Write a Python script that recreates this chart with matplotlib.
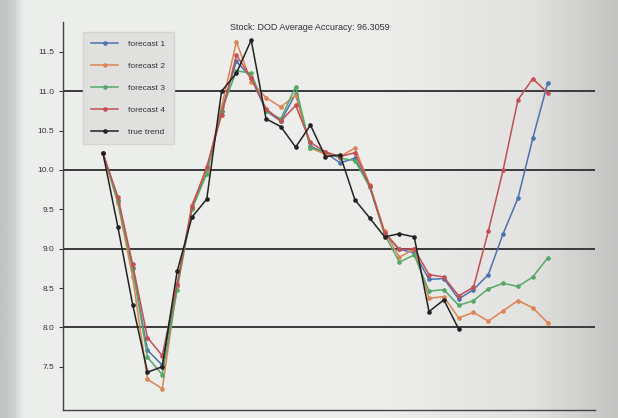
import numpy as np
import matplotlib
matplotlib.use("Agg")
import matplotlib.pyplot as plt
from matplotlib.colors import LinearSegmentedColormap

plt.rcParams['font.family'] = ['Liberation Sans Narrow', 'Liberation Sans', 'DejaVu Sans']

title = "Stock: DOD Average Accuracy: 96.3059"

true_trend = [10.21, 9.28, 8.29, 7.43, 7.50, 8.71, 9.40, 9.63, 11.00, 11.23,
              11.65, 10.65, 10.55, 10.29, 10.57, 10.17, 10.19, 9.62, 9.39, 9.15,
              9.19, 9.15, 8.20, 8.35, 7.98]

forecast_1 = [10.21, 9.62, 8.75, 7.71, 7.52, 8.52, 9.52, 10.00, 10.75, 11.38,
              11.17, 10.75, 10.62, 10.97, 10.30, 10.22, 10.09, 10.15, 9.79, 9.20,
              8.99, 8.95, 8.61, 8.62, 8.36, 8.48, 8.67, 9.19, 9.64, 10.40, 11.10]
forecast_2 = [10.21, 9.58, 8.64, 7.34, 7.22, 8.52, 9.56, 10.00, 10.80, 11.63,
              11.12, 10.92, 10.80, 10.95, 10.28, 10.20, 10.17, 10.28, 9.81, 9.22,
              8.89, 9.00, 8.37, 8.39, 8.12, 8.19, 8.08, 8.21, 8.34, 8.25, 8.06]
forecast_3 = [10.21, 9.60, 8.75, 7.62, 7.40, 8.48, 9.50, 9.95, 10.75, 11.26,
              11.23, 10.75, 10.65, 11.06, 10.28, 10.23, 10.15, 10.12, 9.78, 9.18,
              8.83, 8.92, 8.46, 8.48, 8.28, 8.34, 8.49, 8.56, 8.52, 8.64, 8.88]
forecast_4 = [10.21, 9.66, 8.80, 7.87, 7.64, 8.55, 9.53, 10.04, 10.70, 11.46,
              11.17, 10.78, 10.62, 10.82, 10.35, 10.23, 10.17, 10.22, 9.80, 9.20,
              8.99, 9.00, 8.67, 8.64, 8.40, 8.51, 9.22, 10.00, 10.89, 11.16, 10.98]

series = [("forecast 1", forecast_1, "#4C72B0"),
          ("forecast 2", forecast_2, "#DD8452"),
          ("forecast 3", forecast_3, "#55A868"),
          ("forecast 4", forecast_4, "#C44E52"),
          ("true trend", true_trend, "#222222")]

level_lines = [8.0, 9.0, 10.0, 11.0]
y_ticks = [7.5, 8.0, 8.5, 9.0, 9.5, 10.0, 10.5, 11.0, 11.5]

fig = plt.figure(figsize=(6.18, 4.18), dpi=100)

# backdrop: light screen, darker strip on the left and shading to the right
bg = fig.add_axes([0, 0, 1, 1], zorder=-10)
bg_cmap = LinearSegmentedColormap.from_list(
    "screen", [(0.0, "#bfc3c3"), (0.02, "#cdd1d0"), (0.035, "#eceeeb"),
               (0.6, "#eeefec"), (0.86, "#e2e2e0"), (1.0, "#c4c4c3")])
bg.imshow(np.linspace(0, 1, 400)[None, :], aspect="auto", cmap=bg_cmap,
          extent=[0, 1, 0, 1])
bg.set_axis_off()

ax = fig.add_axes([63 / 618, 8 / 418, 532 / 618, 388 / 418])
ax.patch.set_alpha(0)

for lvl in level_lines:
    ax.axhline(lvl, color="#3a3a3a", lw=1.4, zorder=1)

for name, vals, color in series:
    x = np.arange(len(vals))
    ax.plot(x, vals, color=color, lw=1.1, marker="o", ms=2.3, label=name,
            zorder=3 if name == "true trend" else 2)

ax.set_xlim(-2.7, 33.2)
ax.set_ylim(6.95, 11.88)
ax.set_yticks(y_ticks)
ax.set_yticklabels([f"{t:.1f}" for t in y_ticks])
ax.set_xticks([])
ax.tick_params(axis="y", labelsize=6, colors="#333333", length=3, width=0.8)
for side in ("top", "right"):
    ax.spines[side].set_visible(False)
for side in ("left", "bottom"):
    ax.spines[side].set_color("#444444")
    ax.spines[side].set_linewidth(1.0)

leg = ax.legend(loc="upper left", bbox_to_anchor=(0.03, 0.985), fontsize=6,
                labelspacing=1.7, handlelength=3.2, borderpad=1.0,
                handletextpad=1.2, frameon=True, fancybox=False)
leg.get_frame().set_facecolor("#e0e1df")
leg.get_frame().set_edgecolor("#d4d4d2")
leg.get_frame().set_alpha(1)
for t in leg.get_texts():
    t.set_color("#333333")

fig.text(310 / 618, 1 - 27 / 418, title, ha="center", va="center",
         fontsize=6.5, color="#333333")

fig.savefig("out.png", dpi=100)
